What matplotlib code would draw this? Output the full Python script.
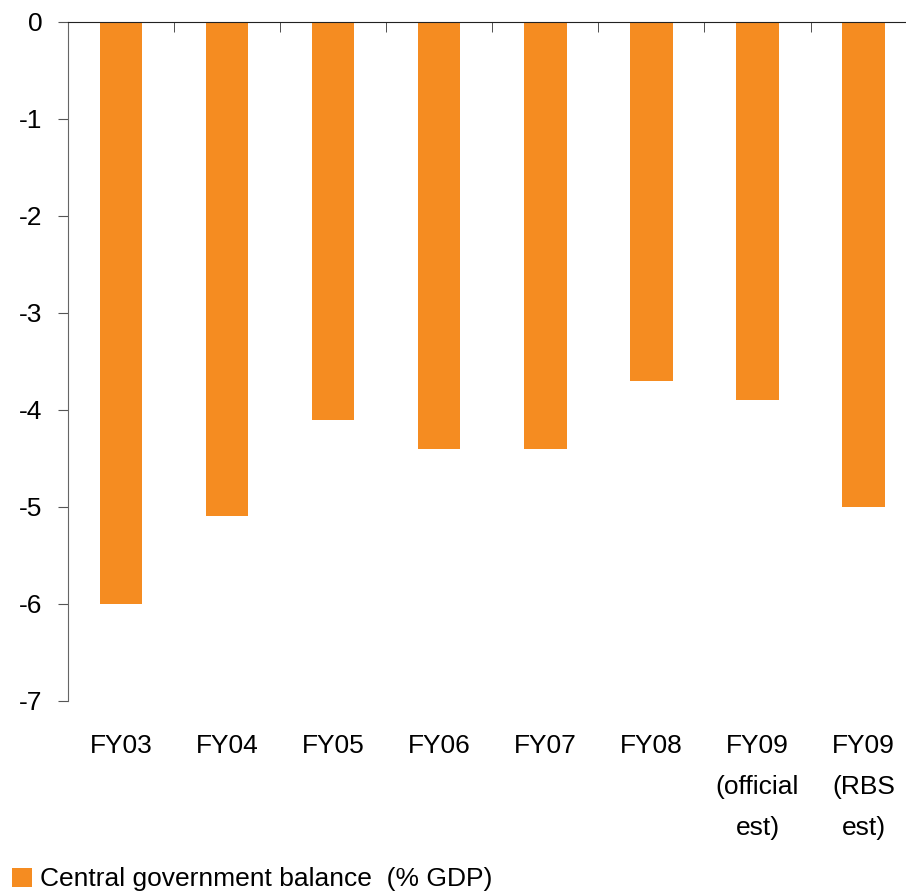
import matplotlib.pyplot as plt
from matplotlib.ticker import FixedLocator

plt.rcParams['font.family'] = ['Liberation Sans', 'DejaVu Sans']

categories = ["FY03", "FY04", "FY05", "FY06", "FY07", "FY08",
              "FY09\n(official\nest)", "FY09\n(RBS\nest)"]
balance = [-6.0, -5.1, -4.1, -4.4, -4.4, -3.7, -3.9, -5.0]
yticks = [0, -1, -2, -3, -4, -5, -6, -7]

fig = plt.figure(figsize=(9.06, 8.93), dpi=100)
ax = fig.add_axes([0.0751, 0.2153, 0.9366, 0.7601])

x = list(range(len(categories)))
bars = ax.bar(x, balance, width=0.4, color='#F58C21',
              label='Central government balance  (% GDP)')

ax.set_xlim(-0.5, len(categories) - 0.5)
ax.set_ylim(-7, 0)
ax.set_yticks(yticks)
ax.set_yticklabels([str(v) for v in yticks])

# category labels sit below the plot, the zero line carries boundary ticks
ax.set_xticks(x)
ax.set_xticklabels(categories, linespacing=1.9)
ax.tick_params(axis='x', which='major', length=0, pad=24, labelsize=19)
ax.xaxis.set_minor_locator(FixedLocator([i - 0.5 for i in range(len(categories) + 1)]))
ax.tick_params(axis='x', which='minor', top=True, bottom=False,
               direction='in', length=7, color='#333333')
ax.tick_params(axis='y', direction='out', length=7.5, pad=11,
               labelsize=19, color='#555555')

for side in ['right', 'bottom']:
    ax.spines[side].set_visible(False)
ax.spines['top'].set_color('#222222')
ax.spines['left'].set_color('#666666')

fig.legend(handles=[bars], loc='lower left', bbox_to_anchor=(-0.004, -0.016),
           frameon=False, fontsize=19, handlelength=0.75, handleheight=0.75,
           handletextpad=0.3, borderaxespad=0.2)

fig.savefig('out.png', dpi=100)
